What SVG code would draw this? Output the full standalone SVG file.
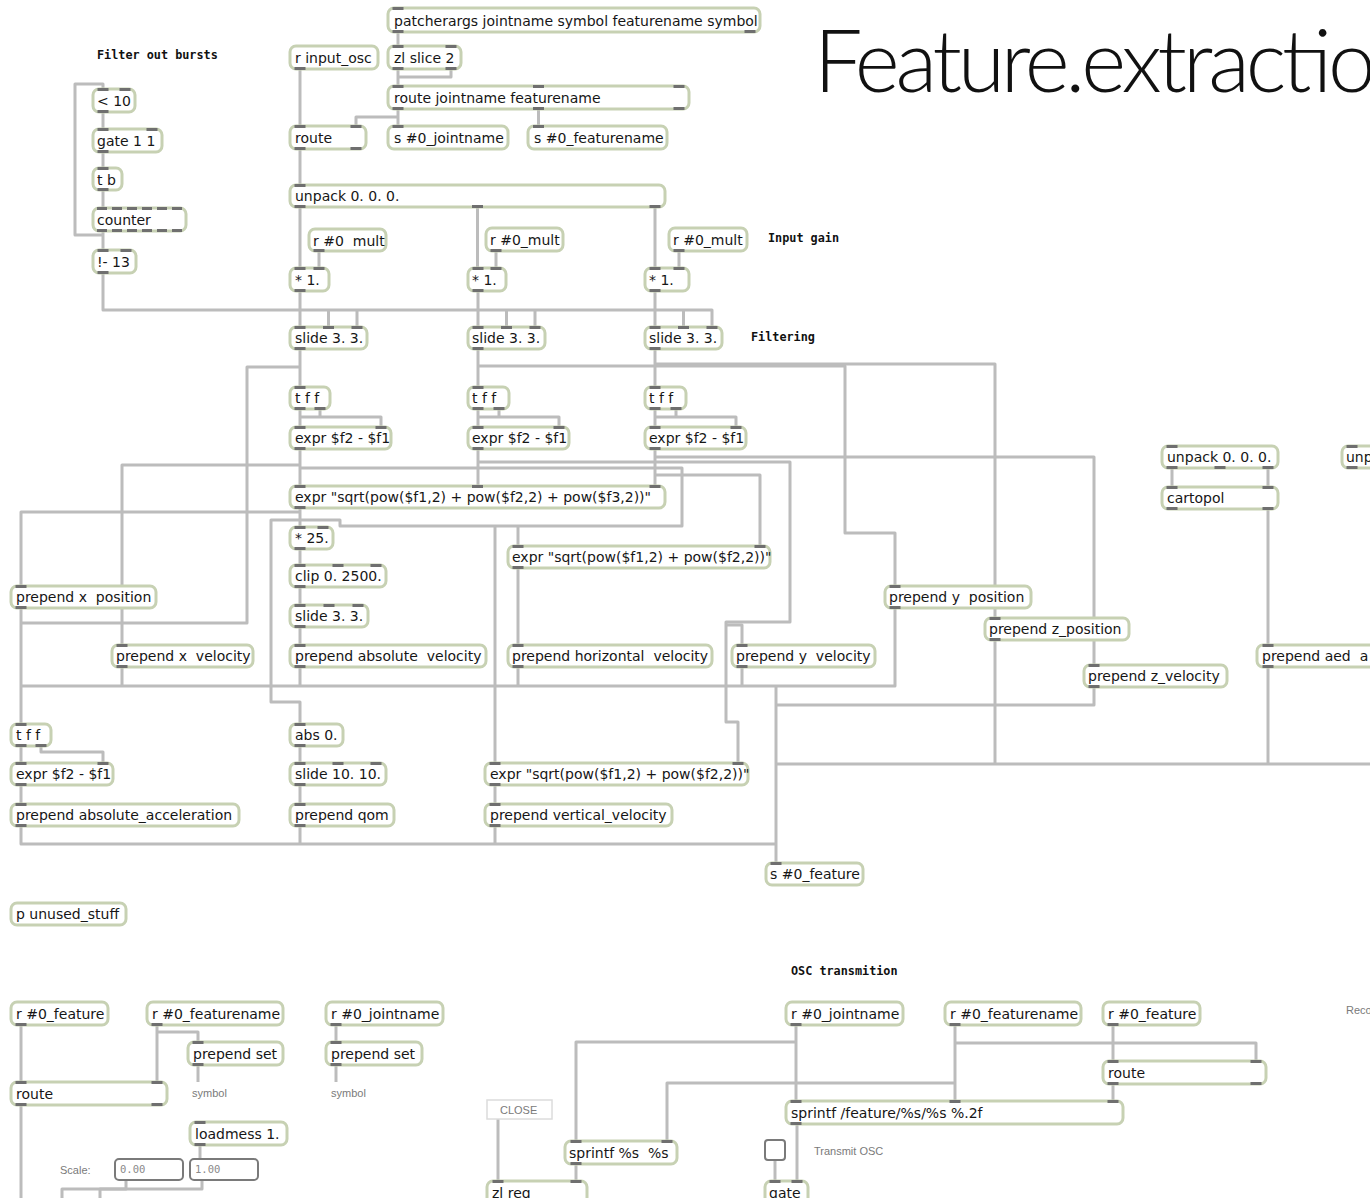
<svg xmlns="http://www.w3.org/2000/svg" width="1370" height="1198" viewBox="0 0 1370 1198">
<style>
.b{fill:#fff;stroke:#c7d1b3;stroke-width:3}
.p{fill:#6f6f6f}
.t{font-family:"DejaVu Sans",Verdana,sans-serif;font-size:14px;fill:#161616;white-space:pre}
.c{fill:none;stroke:#bcbcbc;stroke-width:3;stroke-linejoin:round}
.lbl{font-family:"DejaVu Sans Mono",monospace;font-weight:bold;font-size:11.8px;fill:#111}
.sm{font-family:"Liberation Sans",Arial,sans-serif;font-size:11px;fill:#7a7a7a}
.num{fill:#fff;stroke:#7a7a7a;stroke-width:2}
.numt{font-family:"DejaVu Sans Mono",monospace;font-size:10.5px;fill:#8a8a8a}
.title{font-family:Lato,Roboto,"Liberation Sans",sans-serif;font-weight:300;font-size:86px;fill:#111}
</style>
<rect width="1370" height="1198" fill="#fff"/>

<!-- patch cords -->
<g id="connectors" class="c">
  <!-- header -->
  <path d="M398,32V46"/>
  <path d="M398,69V86"/>
  <path d="M451,69V77H398"/>
  <path d="M398,109V126"/>
  <path d="M398,117H356V126"/>
  <path d="M538.5,109V126"/>
  <path d="M300,69V126"/>
  <path d="M300,149V185"/>
  <!-- filter out bursts -->
  <path d="M103,112V129"/>
  <path d="M103,152V168"/>
  <path d="M103,190V208"/>
  <path d="M103,231V250"/>
  <path d="M103,235H75V84H103V89"/>
  <path d="M103,273V310H712V327"/>
  <path d="M328.5,310V327M357,310V327M506.5,310V327M535,310V327M683.5,310V327"/>
  <!-- gain -->
  <path d="M300,207V268M477.5,207V268M655,207V268"/>
  <path d="M319,251V268M496,251V268M679,251V268"/>
  <path d="M300,291V327M478,291V327M655,291V327"/>
  <!-- slide outputs -->
  <path d="M300,349V387"/>
  <path d="M478,349V387"/>
  <path d="M655,349V387"/>
  <path d="M300,367H247V623H21"/>
  <path d="M478,366H845V533H895V586"/>
  <path d="M655,364H995V618"/>
  <!-- differencing -->
  <path d="M300,409V427"/>
  <path d="M320,409V417H381V427M300,417H320"/>
  <path d="M478,409V427"/>
  <path d="M499,409V417H559V427M478,417H499"/>
  <path d="M655,409V427"/>
  <path d="M676,409V417H736V427M655,417H676"/>
  <!-- velocities -->
  <path d="M300,449V486"/>
  <path d="M478,449V486"/>
  <path d="M655,449V486"/>
  <path d="M300,465H122V645"/>
  <path d="M300,468H682V526H340V520H271V702H300V724"/>
  <path d="M495,526V763"/>
  <path d="M518,526V546"/>
  <path d="M478,462H790V622H726V722H738V763"/>
  <path d="M726,625H742V645"/>
  <path d="M655,457H1094V665"/>
  <path d="M655,475H760V546"/>
  <path d="M300,508V527"/>
  <path d="M300,512H21V586"/>
  <path d="M300,549V565"/>
  <path d="M300,587V605"/>
  <path d="M300,627V645"/>
  <path d="M518,568V645"/>
  <!-- acceleration and qom -->
  <path d="M21,608V724"/>
  <path d="M21,746V763"/>
  <path d="M41,746V752H103V763"/>
  <path d="M21,785V804"/>
  <path d="M300,746V763"/>
  <path d="M300,785V804"/>
  <path d="M495,785V804"/>
  <!-- collecting buses to s #0_feature -->
  <path d="M21,686H895V608"/>
  <path d="M122,667V686M300,667V686M518,667V686M742,667V686"/>
  <path d="M776,686V863"/>
  <path d="M1094,687V705H776"/>
  <path d="M1370,764H776"/>
  <path d="M995,640V764"/>
  <path d="M21,826V844H776"/>
  <path d="M300,826V844M495,826V844"/>
  <!-- polar coordinates -->
  <path d="M1172,468V487M1268,468V487"/>
  <path d="M1268,509V645"/>
  <path d="M1268,667V764"/>
  <!-- display -->
  <path d="M21,1025V1082"/>
  <path d="M157,1025V1082"/>
  <path d="M157,1032H198V1042"/>
  <path d="M198,1065V1082"/>
  <path d="M336,1025V1042"/>
  <path d="M336,1065V1082"/>
  <path d="M21,1105V1198"/>
  <path d="M200,1145V1159"/>
  <path d="M126,1180V1189H62V1198"/>
  <path d="M202,1180V1189H100V1198"/>
  <!-- OSC transmission -->
  <path d="M796,1025V1101"/>
  <path d="M796,1042H576V1141"/>
  <path d="M955,1025V1101"/>
  <path d="M955,1083H667V1141"/>
  <path d="M955,1043H1256V1061"/>
  <path d="M1113,1025V1061"/>
  <path d="M1113,1084V1101"/>
  <path d="M498,1119V1181"/>
  <path d="M576,1164V1181"/>
  <path d="M775,1161V1181"/>
  <path d="M797,1124V1181"/>
</g>

<!-- comments -->
<text class="lbl" x="97" y="59">Filter out bursts</text>
<text class="lbl" x="768" y="242">Input gain</text>
<text class="lbl" x="751" y="341">Filtering</text>
<text class="lbl" x="791" y="975">OSC transmition</text>
<text class="title" x="814" y="92" textLength="562" lengthAdjust="spacing">Feature.extractio</text>
<text class="sm" x="192" y="1097">symbol</text>
<text class="sm" x="331" y="1097">symbol</text>
<text class="sm" x="60" y="1174">Scale:</text>
<text class="sm" x="814" y="1155">Transmit OSC</text>
<text class="sm" x="1346" y="1014">Reco</text>

<!-- header objects -->
<g id="patcherargs"><rect class="b" x="388" y="8" width="372" height="24" rx="6"/><text class="t" x="394" y="26">patcherargs jointname symbol featurename symbol</text><rect class="p" x="392.5" y="7" width="11" height="3"/><rect class="p" x="392.5" y="30" width="11" height="3"/><rect class="p" x="744.5" y="30" width="11" height="3"/></g>
<g id="zlslice"><rect class="b" x="388" y="46" width="73" height="23" rx="6"/><text class="t" x="394" y="63">zl slice 2</text><rect class="p" x="392.5" y="45" width="11" height="3"/><rect class="p" x="445.5" y="45" width="11" height="3"/><rect class="p" x="392.5" y="67" width="11" height="3"/><rect class="p" x="445.5" y="67" width="11" height="3"/></g>
<g id="routeargs"><rect class="b" x="388" y="86" width="301" height="23" rx="6"/><text class="t" x="394" y="103">route jointname featurename</text><rect class="p" x="392.5" y="85" width="11" height="3"/><rect class="p" x="533" y="85" width="11" height="3"/><rect class="p" x="673.5" y="85" width="11" height="3"/><rect class="p" x="392.5" y="107" width="11" height="3"/><rect class="p" x="533" y="107" width="11" height="3"/><rect class="p" x="673.5" y="107" width="11" height="3"/></g>
<g id="sjoint"><rect class="b" x="388" y="126" width="120" height="23" rx="6"/><text class="t" x="394" y="143">s #0_jointname</text><rect class="p" x="392.5" y="125" width="11" height="3"/></g>
<g id="sfeatname"><rect class="b" x="528" y="126" width="139" height="23" rx="6"/><text class="t" x="534" y="143">s #0_featurename</text><rect class="p" x="533" y="125" width="11" height="3"/></g>
<g id="rinput"><rect class="b" x="290" y="46" width="88" height="23" rx="6"/><text class="t" x="295" y="63">r input_osc</text><rect class="p" x="294.5" y="67" width="11" height="3"/></g>
<g id="route1"><rect class="b" x="290" y="126" width="76" height="23" rx="6"/><text class="t" x="295" y="143">route</text><rect class="p" x="294.5" y="125" width="11" height="3"/><rect class="p" x="350.5" y="125" width="11" height="3"/><rect class="p" x="294.5" y="147" width="11" height="3"/><rect class="p" x="350.5" y="147" width="11" height="3"/></g>
<g id="unpack1"><rect class="b" x="290" y="185" width="375" height="22" rx="6"/><text class="t" x="295" y="201">unpack 0. 0. 0.</text><rect class="p" x="294.5" y="184" width="11" height="3"/><rect class="p" x="294.5" y="205" width="11" height="3"/><rect class="p" x="472" y="205" width="11" height="3"/><rect class="p" x="649.5" y="205" width="11" height="3"/></g>

<!-- filter out bursts -->
<g id="lt10"><rect class="b" x="93" y="89" width="42" height="23" rx="6"/><text class="t" x="97" y="106">&lt; 10</text><rect class="p" x="97.5" y="88" width="11" height="3"/><rect class="p" x="119.5" y="88" width="11" height="3"/><rect class="p" x="97.5" y="110" width="11" height="3"/></g>
<g id="gate11"><rect class="b" x="93" y="129" width="69" height="23" rx="6"/><text class="t" x="97" y="146">gate 1 1</text><rect class="p" x="97.5" y="128" width="11" height="3"/><rect class="p" x="146.5" y="128" width="11" height="3"/><rect class="p" x="97.5" y="150" width="11" height="3"/></g>
<g id="tb"><rect class="b" x="93" y="168" width="29" height="22" rx="6"/><text class="t" x="97" y="185">t b</text><rect class="p" x="97.5" y="167" width="11" height="3"/><rect class="p" x="97.5" y="188" width="11" height="3"/></g>
<g id="counter"><rect class="b" x="93" y="208" width="93" height="23" rx="6"/><text class="t" x="97" y="225">counter</text><path d="M97,208.5H182M97,230.5H182" stroke="#6f6f6f" stroke-width="3" stroke-dasharray="10 5" fill="none"/></g>
<g id="minus13"><rect class="b" x="93" y="250" width="43" height="23" rx="6"/><text class="t" x="97" y="267">!- 13</text><rect class="p" x="97.5" y="249" width="11" height="3"/><rect class="p" x="120.5" y="249" width="11" height="3"/><rect class="p" x="97.5" y="271" width="11" height="3"/></g>

<!-- input gain -->
<g id="rmult1"><rect class="b" x="309" y="229" width="77" height="22" rx="6"/><text class="t" x="313" y="246">r #0  mult</text><rect class="p" x="313.5" y="249" width="11" height="3"/></g>
<g id="rmult2"><rect class="b" x="486" y="228" width="77" height="23" rx="6"/><text class="t" x="490" y="245">r #0_mult</text><rect class="p" x="490.5" y="249" width="11" height="3"/></g>
<g id="rmult3"><rect class="b" x="669" y="228" width="78" height="23" rx="6"/><text class="t" x="673" y="245">r #0_mult</text><rect class="p" x="673.5" y="249" width="11" height="3"/></g>
<g id="mul1"><rect class="b" x="290" y="268" width="39" height="23" rx="6"/><text class="t" x="295" y="285">* 1.</text><rect class="p" x="294.5" y="267" width="11" height="3"/><rect class="p" x="313.5" y="267" width="11" height="3"/><rect class="p" x="294.5" y="289" width="11" height="3"/></g>
<g id="mul2"><rect class="b" x="468" y="268" width="38" height="23" rx="6"/><text class="t" x="472" y="285">* 1.</text><rect class="p" x="472.5" y="267" width="11" height="3"/><rect class="p" x="490.5" y="267" width="11" height="3"/><rect class="p" x="472.5" y="289" width="11" height="3"/></g>
<g id="mul3"><rect class="b" x="645" y="268" width="44" height="23" rx="6"/><text class="t" x="649" y="285">* 1.</text><rect class="p" x="649.5" y="267" width="11" height="3"/><rect class="p" x="673.5" y="267" width="11" height="3"/><rect class="p" x="649.5" y="289" width="11" height="3"/></g>

<!-- filtering -->
<g id="slide1"><rect class="b" x="290" y="327" width="77" height="22" rx="6"/><text class="t" x="295" y="343">slide 3. 3.</text><rect class="p" x="294.5" y="326" width="11" height="3"/><rect class="p" x="323" y="326" width="11" height="3"/><rect class="p" x="351.5" y="326" width="11" height="3"/><rect class="p" x="294.5" y="347" width="11" height="3"/></g>
<g id="slide2"><rect class="b" x="468" y="327" width="77" height="22" rx="6"/><text class="t" x="472" y="343">slide 3. 3.</text><rect class="p" x="472.5" y="326" width="11" height="3"/><rect class="p" x="501" y="326" width="11" height="3"/><rect class="p" x="529.5" y="326" width="11" height="3"/><rect class="p" x="472.5" y="347" width="11" height="3"/></g>
<g id="slide3"><rect class="b" x="645" y="327" width="77" height="22" rx="6"/><text class="t" x="649" y="343">slide 3. 3.</text><rect class="p" x="649.5" y="326" width="11" height="3"/><rect class="p" x="678" y="326" width="11" height="3"/><rect class="p" x="706.5" y="326" width="11" height="3"/><rect class="p" x="649.5" y="347" width="11" height="3"/></g>

<!-- differencing -->
<g id="tff1"><rect class="b" x="290" y="387" width="40" height="22" rx="6"/><text class="t" x="295" y="403">t f f</text><rect class="p" x="294.5" y="386" width="11" height="3"/><rect class="p" x="294.5" y="407" width="11" height="3"/><rect class="p" x="314.5" y="407" width="11" height="3"/></g>
<g id="tff2"><rect class="b" x="468" y="387" width="41" height="22" rx="6"/><text class="t" x="472" y="403">t f f</text><rect class="p" x="472.5" y="386" width="11" height="3"/><rect class="p" x="472.5" y="407" width="11" height="3"/><rect class="p" x="493.5" y="407" width="11" height="3"/></g>
<g id="tff3"><rect class="b" x="645" y="387" width="41" height="22" rx="6"/><text class="t" x="649" y="403">t f f</text><rect class="p" x="649.5" y="386" width="11" height="3"/><rect class="p" x="649.5" y="407" width="11" height="3"/><rect class="p" x="670.5" y="407" width="11" height="3"/></g>
<g id="diff1"><rect class="b" x="290" y="427" width="101" height="22" rx="6"/><text class="t" x="295" y="443">expr $f2 - $f1</text><rect class="p" x="294.5" y="426" width="11" height="3"/><rect class="p" x="375.5" y="426" width="11" height="3"/><rect class="p" x="294.5" y="447" width="11" height="3"/></g>
<g id="diff2"><rect class="b" x="468" y="427" width="101" height="22" rx="6"/><text class="t" x="472" y="443">expr $f2 - $f1</text><rect class="p" x="472.5" y="426" width="11" height="3"/><rect class="p" x="553.5" y="426" width="11" height="3"/><rect class="p" x="472.5" y="447" width="11" height="3"/></g>
<g id="diff3"><rect class="b" x="645" y="427" width="101" height="22" rx="6"/><text class="t" x="649" y="443">expr $f2 - $f1</text><rect class="p" x="649.5" y="426" width="11" height="3"/><rect class="p" x="730.5" y="426" width="11" height="3"/><rect class="p" x="649.5" y="447" width="11" height="3"/></g>

<!-- absolute velocity chain -->
<g id="norm3"><rect class="b" x="290" y="486" width="375" height="22" rx="6"/><text class="t" x="295" y="502">expr "sqrt(pow($f1,2) + pow($f2,2) + pow($f3,2))"</text><rect class="p" x="294.5" y="485" width="11" height="3"/><rect class="p" x="472" y="485" width="11" height="3"/><rect class="p" x="649.5" y="485" width="11" height="3"/><rect class="p" x="294.5" y="506" width="11" height="3"/></g>
<g id="mul25"><rect class="b" x="290" y="527" width="43" height="22" rx="6"/><text class="t" x="295" y="543">* 25.</text><rect class="p" x="294.5" y="526" width="11" height="3"/><rect class="p" x="317.5" y="526" width="11" height="3"/><rect class="p" x="294.5" y="547" width="11" height="3"/></g>
<g id="clip"><rect class="b" x="290" y="565" width="96" height="22" rx="6"/><text class="t" x="295" y="581">clip 0. 2500.</text><rect class="p" x="294.5" y="564" width="11" height="3"/><rect class="p" x="332.5" y="564" width="11" height="3"/><rect class="p" x="370.5" y="564" width="11" height="3"/><rect class="p" x="294.5" y="585" width="11" height="3"/></g>
<g id="slide4"><rect class="b" x="290" y="605" width="78" height="22" rx="6"/><text class="t" x="295" y="621">slide 3. 3.</text><rect class="p" x="294.5" y="604" width="11" height="3"/><rect class="p" x="323.5" y="604" width="11" height="3"/><rect class="p" x="352.5" y="604" width="11" height="3"/><rect class="p" x="294.5" y="625" width="11" height="3"/></g>
<g id="pabsvel"><rect class="b" x="290" y="645" width="196" height="22" rx="6"/><text class="t" x="295" y="661">prepend absolute  velocity</text><rect class="p" x="294.5" y="644" width="11" height="3"/><rect class="p" x="294.5" y="665" width="11" height="3"/></g>

<!-- per-axis outputs -->
<g id="pxpos"><rect class="b" x="11" y="586" width="145" height="22" rx="6"/><text class="t" x="16" y="602">prepend x  position</text><rect class="p" x="15.5" y="585" width="11" height="3"/><rect class="p" x="15.5" y="606" width="11" height="3"/></g>
<g id="pxvel"><rect class="b" x="112" y="645" width="141" height="22" rx="6"/><text class="t" x="116" y="661">prepend x  velocity</text><rect class="p" x="116.5" y="644" width="11" height="3"/><rect class="p" x="116.5" y="665" width="11" height="3"/></g>
<g id="norm2a"><rect class="b" x="508" y="546" width="262" height="22" rx="6"/><text class="t" x="512" y="562">expr "sqrt(pow($f1,2) + pow($f2,2))"</text><rect class="p" x="512.5" y="545" width="11" height="3"/><rect class="p" x="754.5" y="545" width="11" height="3"/><rect class="p" x="512.5" y="566" width="11" height="3"/></g>
<g id="phorvel"><rect class="b" x="508" y="645" width="204" height="22" rx="6"/><text class="t" x="512" y="661">prepend horizontal  velocity</text><rect class="p" x="512.5" y="644" width="11" height="3"/><rect class="p" x="512.5" y="665" width="11" height="3"/></g>
<g id="pyvel"><rect class="b" x="732" y="645" width="143" height="22" rx="6"/><text class="t" x="736" y="661">prepend y  velocity</text><rect class="p" x="736.5" y="644" width="11" height="3"/><rect class="p" x="736.5" y="665" width="11" height="3"/></g>
<g id="pypos"><rect class="b" x="885" y="586" width="146" height="22" rx="6"/><text class="t" x="889" y="602">prepend y  position</text><rect class="p" x="889.5" y="585" width="11" height="3"/><rect class="p" x="889.5" y="606" width="11" height="3"/></g>
<g id="pzpos"><rect class="b" x="985" y="618" width="144" height="22" rx="6"/><text class="t" x="989" y="634">prepend z_position</text><rect class="p" x="989.5" y="617" width="11" height="3"/><rect class="p" x="989.5" y="638" width="11" height="3"/></g>
<g id="pzvel"><rect class="b" x="1084" y="665" width="143" height="22" rx="6"/><text class="t" x="1088" y="681">prepend z_velocity</text><rect class="p" x="1088.5" y="664" width="11" height="3"/><rect class="p" x="1088.5" y="685" width="11" height="3"/></g>

<!-- polar coordinates -->
<g id="unpack2"><rect class="b" x="1162" y="446" width="116" height="22" rx="6"/><text class="t" x="1167" y="462">unpack 0. 0. 0.</text><rect class="p" x="1166.5" y="445" width="11" height="3"/><rect class="p" x="1166.5" y="466" width="11" height="3"/><rect class="p" x="1214.5" y="466" width="11" height="3"/><rect class="p" x="1262.5" y="466" width="11" height="3"/></g>
<g id="cartopol"><rect class="b" x="1162" y="487" width="116" height="22" rx="6"/><text class="t" x="1167" y="503">cartopol</text><rect class="p" x="1166.5" y="486" width="11" height="3"/><rect class="p" x="1262.5" y="486" width="11" height="3"/><rect class="p" x="1166.5" y="507" width="11" height="3"/><rect class="p" x="1262.5" y="507" width="11" height="3"/></g>
<g id="unpack3"><rect class="b" x="1342" y="446" width="60" height="22" rx="6"/><text class="t" x="1346" y="462">unp</text><rect class="p" x="1346.5" y="445" width="11" height="3"/><rect class="p" x="1346.5" y="466" width="11" height="3"/></g>
<g id="paed"><rect class="b" x="1257" y="645" width="160" height="22" rx="6"/><text class="t" x="1262" y="661">prepend aed  a</text><rect class="p" x="1262.5" y="644" width="11" height="3"/><rect class="p" x="1262.5" y="665" width="11" height="3"/></g>

<!-- acceleration, qom, vertical velocity -->
<g id="tff4"><rect class="b" x="11" y="724" width="40" height="22" rx="6"/><text class="t" x="16" y="740">t f f</text><rect class="p" x="15.5" y="723" width="11" height="3"/><rect class="p" x="15.5" y="744" width="11" height="3"/><rect class="p" x="35.5" y="744" width="11" height="3"/></g>
<g id="diff4"><rect class="b" x="11" y="763" width="102" height="22" rx="6"/><text class="t" x="16" y="779">expr $f2 - $f1</text><rect class="p" x="15.5" y="762" width="11" height="3"/><rect class="p" x="97.5" y="762" width="11" height="3"/><rect class="p" x="15.5" y="783" width="11" height="3"/></g>
<g id="pacc"><rect class="b" x="11" y="804" width="228" height="22" rx="6"/><text class="t" x="16" y="820">prepend absolute_acceleration</text><rect class="p" x="15.5" y="803" width="11" height="3"/><rect class="p" x="15.5" y="824" width="11" height="3"/></g>
<g id="abs"><rect class="b" x="290" y="724" width="53" height="22" rx="6"/><text class="t" x="295" y="740">abs 0.</text><rect class="p" x="294.5" y="723" width="11" height="3"/><rect class="p" x="294.5" y="744" width="11" height="3"/></g>
<g id="slide10"><rect class="b" x="290" y="763" width="96" height="22" rx="6"/><text class="t" x="295" y="779">slide 10. 10.</text><rect class="p" x="294.5" y="762" width="11" height="3"/><rect class="p" x="332.5" y="762" width="11" height="3"/><rect class="p" x="370.5" y="762" width="11" height="3"/><rect class="p" x="294.5" y="783" width="11" height="3"/></g>
<g id="pqom"><rect class="b" x="290" y="804" width="104" height="22" rx="6"/><text class="t" x="295" y="820">prepend qom</text><rect class="p" x="294.5" y="803" width="11" height="3"/><rect class="p" x="294.5" y="824" width="11" height="3"/></g>
<g id="norm2b"><rect class="b" x="485" y="763" width="263" height="22" rx="6"/><text class="t" x="490" y="779">expr "sqrt(pow($f1,2) + pow($f2,2))"</text><rect class="p" x="489.5" y="762" width="11" height="3"/><rect class="p" x="732.5" y="762" width="11" height="3"/><rect class="p" x="489.5" y="783" width="11" height="3"/></g>
<g id="pvertvel"><rect class="b" x="485" y="804" width="187" height="22" rx="6"/><text class="t" x="490" y="820">prepend vertical_velocity</text><rect class="p" x="489.5" y="803" width="11" height="3"/><rect class="p" x="489.5" y="824" width="11" height="3"/></g>
<g id="sfeature"><rect class="b" x="766" y="863" width="97" height="22" rx="6"/><text class="t" x="770" y="879">s #0_feature</text><rect class="p" x="770.5" y="862" width="11" height="3"/></g>
<g id="punused"><rect class="b" x="11" y="903" width="115" height="22" rx="6"/><text class="t" x="16" y="919">p unused_stuff</text></g>

<!-- display section -->
<g id="rfeatureL"><rect class="b" x="11" y="1002" width="97" height="23" rx="6"/><text class="t" x="16" y="1019">r #0_feature</text><rect class="p" x="15.5" y="1023" width="11" height="3"/></g>
<g id="rfeatnameL"><rect class="b" x="147" y="1002" width="136" height="23" rx="6"/><text class="t" x="152" y="1019">r #0_featurename</text><rect class="p" x="151.5" y="1023" width="11" height="3"/></g>
<g id="rjointL"><rect class="b" x="326" y="1002" width="117" height="23" rx="6"/><text class="t" x="331" y="1019">r #0_jointname</text><rect class="p" x="330.5" y="1023" width="11" height="3"/></g>
<g id="pset1"><rect class="b" x="188" y="1042" width="95" height="23" rx="6"/><text class="t" x="193" y="1059">prepend set</text><rect class="p" x="192.5" y="1041" width="11" height="3"/><rect class="p" x="192.5" y="1063" width="11" height="3"/></g>
<g id="pset2"><rect class="b" x="326" y="1042" width="96" height="23" rx="6"/><text class="t" x="331" y="1059">prepend set</text><rect class="p" x="330.5" y="1041" width="11" height="3"/><rect class="p" x="330.5" y="1063" width="11" height="3"/></g>
<g id="routeL"><rect class="b" x="11" y="1082" width="156" height="23" rx="6"/><text class="t" x="16" y="1099">route</text><rect class="p" x="15.5" y="1081" width="11" height="3"/><rect class="p" x="151.5" y="1081" width="11" height="3"/><rect class="p" x="15.5" y="1103" width="11" height="3"/><rect class="p" x="151.5" y="1103" width="11" height="3"/></g>
<g id="loadmess"><rect class="b" x="190" y="1122" width="97" height="23" rx="6"/><text class="t" x="195" y="1139">loadmess 1.</text><rect class="p" x="194.5" y="1121" width="11" height="3"/><rect class="p" x="194.5" y="1143" width="11" height="3"/></g>
<g id="numlo"><rect class="num" x="115" y="1159" width="68" height="21" rx="4"/><text class="numt" x="120" y="1173">0.00</text></g>
<g id="numhi"><rect class="num" x="190" y="1159" width="68" height="21" rx="4"/><text class="numt" x="195" y="1173">1.00</text></g>

<!-- OSC transmission -->
<g id="closemsg"><rect x="487" y="1100" width="65" height="19" fill="#fff" stroke="#dcdcdc" stroke-width="1.5"/><text class="sm" x="500" y="1114" fill="#888">CLOSE</text></g>
<g id="sprintf2"><rect class="b" x="565" y="1141" width="112" height="23" rx="6"/><text class="t" x="569" y="1158">sprintf %s  %s</text><rect class="p" x="570.5" y="1140" width="11" height="3"/><rect class="p" x="661.5" y="1140" width="11" height="3"/><rect class="p" x="570.5" y="1162" width="11" height="3"/></g>
<g id="zlreg"><rect class="b" x="487" y="1181" width="100" height="23" rx="6"/><text class="t" x="492" y="1198">zl reg</text><rect class="p" x="492.5" y="1180" width="11" height="3"/><rect class="p" x="570.5" y="1180" width="11" height="3"/></g>
<g id="toggle"><rect x="765" y="1140" width="20" height="20" rx="3" fill="#fff" stroke="#7a7a7a" stroke-width="2"/></g>
<g id="gateosc"><rect class="b" x="765" y="1181" width="43" height="23" rx="6"/><text class="t" x="769" y="1198">gate</text><rect class="p" x="769.5" y="1180" width="11" height="3"/><rect class="p" x="791.5" y="1180" width="11" height="3"/></g>
<g id="rjointR"><rect class="b" x="786" y="1002" width="117" height="23" rx="6"/><text class="t" x="791" y="1019">r #0_jointname</text><rect class="p" x="790.5" y="1023" width="11" height="3"/></g>
<g id="rfeatnameR"><rect class="b" x="945" y="1002" width="136" height="23" rx="6"/><text class="t" x="950" y="1019">r #0_featurename</text><rect class="p" x="949.5" y="1023" width="11" height="3"/></g>
<g id="rfeatureR"><rect class="b" x="1103" y="1002" width="97" height="23" rx="6"/><text class="t" x="1108" y="1019">r #0_feature</text><rect class="p" x="1107.5" y="1023" width="11" height="3"/></g>
<g id="routeR"><rect class="b" x="1103" y="1061" width="163" height="23" rx="6"/><text class="t" x="1108" y="1078">route</text><rect class="p" x="1107.5" y="1060" width="11" height="3"/><rect class="p" x="1250.5" y="1060" width="11" height="3"/><rect class="p" x="1107.5" y="1082" width="11" height="3"/><rect class="p" x="1250.5" y="1082" width="11" height="3"/></g>
<g id="sprintf3"><rect class="b" x="786" y="1101" width="337" height="23" rx="6"/><text class="t" x="791" y="1118">sprintf /feature/%s/%s %.2f</text><rect class="p" x="790.5" y="1100" width="11" height="3"/><rect class="p" x="949.5" y="1100" width="11" height="3"/><rect class="p" x="1107.5" y="1100" width="11" height="3"/><rect class="p" x="790.5" y="1122" width="11" height="3"/></g>
</svg>
